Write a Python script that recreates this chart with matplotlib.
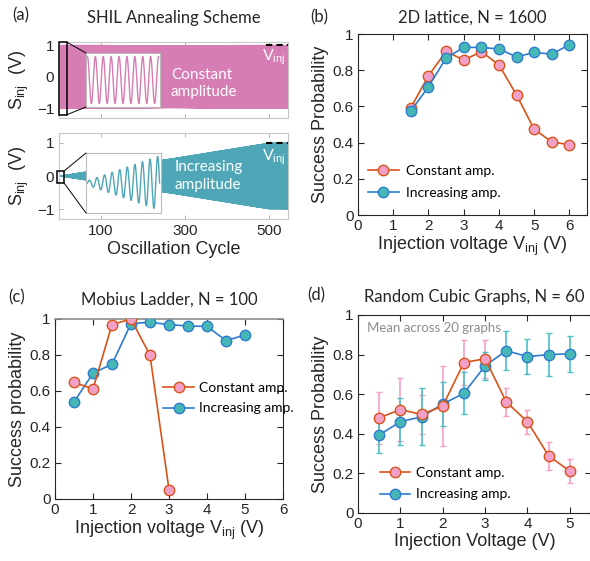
import numpy as np
import matplotlib.pyplot as plt
from matplotlib.patches import Rectangle, ConnectionPatch

# ---- data ----
# (a) schematic: drive amplitude in V, cycle counts
v_inj = 1.0
n_cycles = 545
ramp_end = 500
inset_cycles_const = 9
inset_cycles_incr = 9.5

# (b) 2D lattice, N = 1600
volt_b = [1.5, 2.0, 2.5, 3.0, 3.5, 4.0, 4.5, 5.0, 5.5, 6.0]
const_b = [0.593, 0.769, 0.904, 0.856, 0.902, 0.830, 0.663, 0.474, 0.404, 0.388]
incr_b = [0.574, 0.709, 0.867, 0.926, 0.926, 0.917, 0.874, 0.898, 0.889, 0.941]

# (c) Mobius ladder, N = 100
volt_c_const = [0.5, 1.0, 1.5, 2.0, 2.5, 3.0]
const_c = [0.648, 0.611, 0.969, 1.0, 0.799, 0.052]
volt_c_incr = [0.5, 1.0, 1.5, 2.0, 2.5, 3.0, 3.5, 4.0, 4.5, 5.0]
incr_c = [0.539, 0.699, 0.749, 0.974, 0.982, 0.969, 0.961, 0.959, 0.880, 0.911]

# (d) random cubic graphs, N = 60
volt_d = [0.5, 1.0, 1.5, 2.0, 2.5, 3.0, 3.5, 4.0, 4.5, 5.0]
const_d = [0.481, 0.522, 0.498, 0.540, 0.760, 0.779, 0.561, 0.461, 0.289, 0.211]
const_d_err = [0.13, 0.16, 0.10, 0.20, 0.115, 0.097, 0.07, 0.06, 0.07, 0.06]
incr_d = [0.394, 0.461, 0.486, 0.550, 0.605, 0.743, 0.820, 0.790, 0.800, 0.804]
incr_d_err = [0.09, 0.12, 0.145, 0.11, 0.105, 0.07, 0.10, 0.09, 0.11, 0.09]

W, H = 590, 561
plt.rcParams['font.family'] = ['Liberation Sans', 'DejaVu Sans']
plt.rcParams['mathtext.fontset'] = 'custom'
plt.rcParams['mathtext.rm'] = 'Liberation Sans'
plt.rcParams['mathtext.default'] = 'rm'

PINK_BAND = '#d67db3'
TEAL_BAND = '#4ea6b6'
ORANGE = '#d95319'
BLUE = '#2f7bd0'
PINK = '#f3a0c8'
TEAL = '#45b8b6'
DARK = '#262626'
TITLE_FONT = ['Lato', 'DejaVu Sans']


def box(l, t, r, b):
    return [l / W, 1 - b / H, (r - l) / W, (b - t) / H]


def style_main(ax):
    for s in ax.spines.values():
        s.set_color(DARK)
        s.set_linewidth(0.8)
    ax.tick_params(direction='in', length=4, width=0.8, labelsize=11,
                   colors=DARK, top=True, right=True, pad=3)


def style_schematic(ax):
    for s in ax.spines.values():
        s.set_color('#c8c8c8')
        s.set_linewidth(0.8)
    ax.tick_params(direction='in', length=3, width=0.6, color='#aaaaaa',
                   labelcolor=DARK, labelsize=11, top=True, right=True)


def two_curves(ax, x1, y1, x2, y2, const_on_top):
    z1, z2 = (4, 3) if const_on_top else (3, 4)
    ax.plot(x1, y1, '-o', color=ORANGE, mfc=PINK, mec=ORANGE, ms=7.5, mew=1,
            lw=1.2, label='Constant amp.', zorder=z1)
    ax.plot(x2, y2, '-o', color=BLUE, mfc=TEAL, mec=BLUE, ms=7.5, mew=1,
            lw=1.2, label='Increasing amp.', zorder=z2)


def prob_axes(ax, xmax, ylabel, xlabel):
    style_main(ax)
    ax.set_xlim(0, xmax)
    ax.set_ylim(0, 1)
    ax.set_yticks([0, 0.2, 0.4, 0.6, 0.8, 1.0])
    ax.set_yticklabels(['0', '0.2', '0.4', '0.6', '0.8', '1'])
    ax.set_ylabel(ylabel, fontsize=13, color=DARK, labelpad=3)
    ax.set_xlabel(xlabel, fontsize=13, color=DARK, labelpad=1)


fig = plt.figure(figsize=(W / 100, H / 100), dpi=100)

# ---------------- (a) ----------------
t = np.linspace(0, n_cycles, n_cycles * 16)

ax_a1 = fig.add_axes(box(59, 42, 288, 118))
ax_a1.plot(t, v_inj * np.sin(2 * np.pi * t), color=PINK_BAND, lw=0.6)
ax_a1.set_xlim(0, n_cycles)
ax_a1.set_ylim(-1.3, 1.1)
ax_a1.set_yticks([-1, 0, 1])
ax_a1.set_xticks([100, 300, 500])
ax_a1.set_xticklabels([])
style_schematic(ax_a1)
ax_a1.set_ylabel('S$_{inj}$  (V)', fontsize=13, color=DARK, labelpad=4)
ax_a1.set_title('SHIL Annealing Scheme', family=TITLE_FONT, fontsize=12,
                pad=14, color=DARK)
ax_a1.plot([492, n_cycles], [v_inj, v_inj], color='k', lw=1.5, ls=(0, (3, 2)))
ax_a1.text(540, 0.62, 'V$_{inj}$', color='white', fontsize=11.5, ha='right',
           va='center', family=TITLE_FONT)
ax_a1.text(266, -0.2, 'Constant\namplitude', color='white', fontsize=11,
           ha='left', va='center', family=TITLE_FONT, linespacing=1.3)
ax_a1.add_patch(Rectangle((1, -1.2), 17, 2.3, fill=False, ec='k', lw=1.1,
                          clip_on=False, zorder=5))

ins1 = fig.add_axes(box(86, 53, 160, 107))
ti = np.linspace(0, 1, 600)
ins1.plot(ti, np.cos(2 * np.pi * inset_cycles_const * ti), color=PINK_BAND, lw=1)
ins1.set_xlim(-0.02, 1.02)
ins1.set_ylim(-1.15, 1.15)
ins1.set_xticks([])
ins1.set_yticks([])
for s in ins1.spines.values():
    s.set_color('#bbbbbb')
    s.set_linewidth(0.8)
for ya, yb in [(1.1, 1), (-1.2, 0)]:
    fig.add_artist(ConnectionPatch(xyA=(18, ya), coordsA=ax_a1.transData,
                                   xyB=(0, yb), coordsB=ins1.transAxes,
                                   color='k', lw=0.7))

ax_a2 = fig.add_axes(box(59, 133, 288, 219))
env = v_inj * np.clip(t / ramp_end, 0, 1)
ax_a2.plot(t, env * np.sin(2 * np.pi * t), color=TEAL_BAND, lw=0.6)
ax_a2.set_xlim(0, n_cycles)
ax_a2.set_ylim(-1.3, 1.3)
ax_a2.set_yticks([-1, 0, 1])
ax_a2.set_xticks([100, 300, 500])
style_schematic(ax_a2)
ax_a2.set_ylabel('S$_{inj}$  (V)', fontsize=13, color=DARK, labelpad=4)
ax_a2.set_xlabel('Oscillation Cycle', fontsize=13, color=DARK, labelpad=2)
ax_a2.plot([492, n_cycles], [v_inj, v_inj], color='k', lw=1.5, ls=(0, (3, 2)))
ax_a2.text(540, 0.57, 'V$_{inj}$', color='white', fontsize=11.5, ha='right',
           va='center', family=TITLE_FONT)
ax_a2.text(274, 0.0, 'Increasing\namplitude', color='white', fontsize=11,
           ha='left', va='center', family=TITLE_FONT, linespacing=1.3)
ax_a2.add_patch(Rectangle((-4, -0.21), 16, 0.36, fill=False, ec='k', lw=1.1,
                          clip_on=False, zorder=5))

ins2 = fig.add_axes(box(86, 153, 161, 213))
amp = 0.08 + 0.92 * ti
ins2.plot(ti, amp * np.sin(2 * np.pi * inset_cycles_incr * ti), color=TEAL_BAND, lw=1)
ins2.set_xlim(-0.02, 1.02)
ins2.set_ylim(-1.1, 1.1)
ins2.set_xticks([])
ins2.set_yticks([])
for s in ins2.spines.values():
    s.set_color('#bbbbbb')
    s.set_linewidth(0.8)
for ya, yb in [(0.15, 1), (-0.21, 0)]:
    fig.add_artist(ConnectionPatch(xyA=(12, ya), coordsA=ax_a2.transData,
                                   xyB=(0, yb), coordsB=ins2.transAxes,
                                   color='k', lw=0.7))

# ---------------- (b) ----------------
ax_b = fig.add_axes(box(358, 34, 587, 215))
two_curves(ax_b, volt_b, const_b, volt_b, incr_b, const_on_top=False)
prob_axes(ax_b, 6.5, 'Success Probability', 'Injection voltage V$_{inj}$ (V)')
ax_b.set_xticks(range(7))
ax_b.set_title('2D lattice, N = 1600', family=TITLE_FONT, fontsize=12,
               pad=8, color=DARK)
ax_b.legend(loc='lower left', bbox_to_anchor=(-0.01, 0.02), frameon=False,
            prop={'family': TITLE_FONT, 'size': 10}, handlelength=2.2,
            handletextpad=0.5, labelspacing=0.7)

# ---------------- (c) ----------------
ax_c = fig.add_axes(box(55, 319, 283, 499))
two_curves(ax_c, volt_c_const, const_c, volt_c_incr, incr_c, const_on_top=True)
prob_axes(ax_c, 6, 'Success probability', 'Injection voltage V$_{inj}$ (V)')
ax_c.set_xticks(range(7))
ax_c.spines['top'].set_color('#8c8c8c')
ax_c.spines['top'].set_linewidth(1.2)
ax_c.set_title('Mobius Ladder, N = 100', family=TITLE_FONT, fontsize=12,
               pad=10, color=DARK)
ax_c.legend(loc='center left', bbox_to_anchor=(0.42, 0.56), frameon=False,
            prop={'family': TITLE_FONT, 'size': 10}, handlelength=2.2,
            handletextpad=0.4, labelspacing=0.6)

# ---------------- (d) ----------------
ax_d = fig.add_axes(box(358, 315, 591, 513))
ax_d.errorbar(volt_d, const_d, yerr=const_d_err, fmt='none', ecolor='#f59fc8',
              elinewidth=1.2, capsize=2, capthick=1, zorder=2)
ax_d.errorbar(volt_d, incr_d, yerr=incr_d_err, fmt='none', ecolor='#4cc0c4',
              elinewidth=1.2, capsize=2, capthick=1, zorder=2)
two_curves(ax_d, volt_d, const_d, volt_d, incr_d, const_on_top=True)
prob_axes(ax_d, 5.5, 'Success Probability', 'Injection Voltage (V)')
ax_d.set_xticks(range(6))
ax_d.set_title('Random Cubic Graphs, N = 60', family=TITLE_FONT, fontsize=12,
               pad=9, color=DARK)
ax_d.text(0.04, 0.935, 'Mean across 20 graphs', transform=ax_d.transAxes,
          color='#8c8c8c', fontsize=9.5, family=TITLE_FONT, va='center')
ax_d.legend(loc='lower left', bbox_to_anchor=(0.04, 0.0), frameon=False,
            prop={'family': TITLE_FONT, 'size': 10}, handlelength=2.2,
            handletextpad=0.4, labelspacing=0.7)

# panel labels
for lab, px, py in [('(a)', 12, 15), ('(b)', 310, 17), ('(c)', 8, 297), ('(d)', 307, 295)]:
    fig.text(px / W, 1 - py / H, lab, family=TITLE_FONT, fontsize=12,
             va='center', ha='left', color=DARK)

fig.savefig('out.png', dpi=100)
